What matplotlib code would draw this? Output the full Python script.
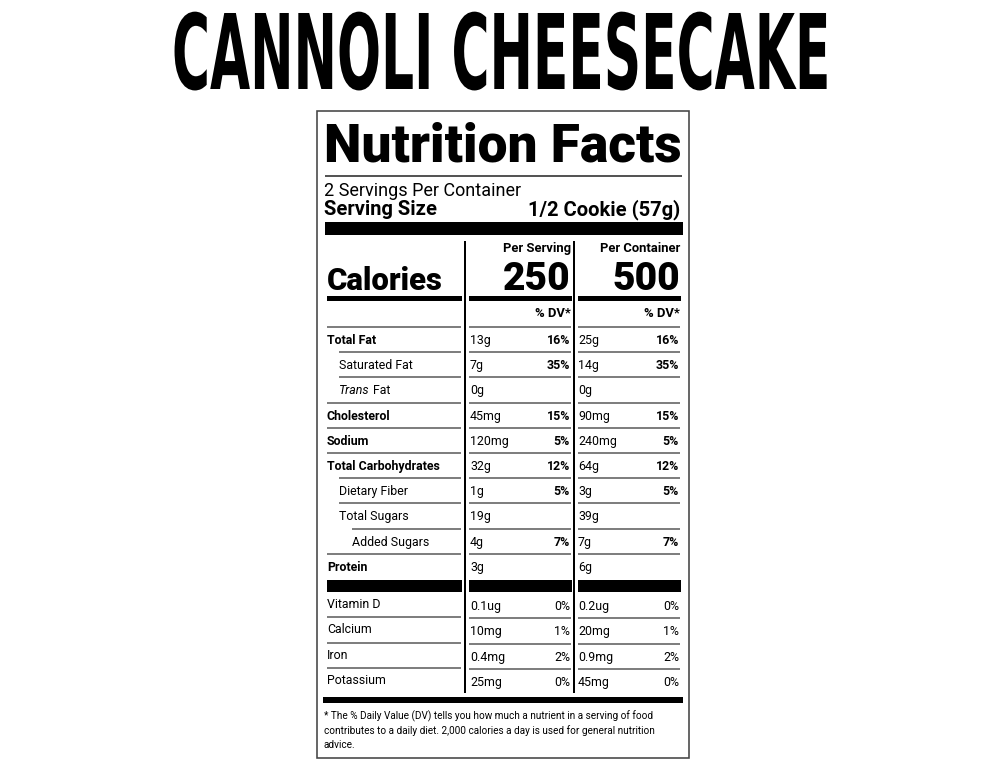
import matplotlib
matplotlib.use("Agg")
import matplotlib.pyplot as plt
from matplotlib.patches import Rectangle
from matplotlib.patheffects import AbstractPathEffect
from matplotlib.transforms import Affine2D

# ---------------- data ----------------
title = "CANNOLI CHEESECAKE"
servings_text = "2 Servings Per Container"
serving_size_label = "Serving Size"
serving_size_value = "1/2 Cookie (57g)"
col_headers = ["Per Serving", "Per Container"]
calories = ["250", "500"]

nutrients = ["Total Fat", "Saturated Fat", "Trans Fat", "Cholesterol", "Sodium",
             "Total Carbohydrates", "Dietary Fiber", "Total Sugars", "Added Sugars", "Protein"]
indent_level = [0, 1, 1, 0, 0, 0, 1, 1, 2, 0]
is_bold = [True, False, False, True, True, True, False, False, False, True]
serving_amount = ["13g", "7g", "0g", "45mg", "120mg", "32g", "1g", "19g", "4g", "3g"]
serving_dv = ["16%", "35%", "", "15%", "5%", "12%", "5%", "", "7%", ""]
container_amount = ["25g", "14g", "0g", "90mg", "240mg", "64g", "3g", "39g", "7g", "6g"]
container_dv = ["16%", "35%", "", "15%", "5%", "12%", "5%", "", "7%", ""]

vitamins = ["Vitamin D", "Calcium", "Iron", "Potassium"]
vit_serving_amount = ["0.1ug", "10mg", "0.4mg", "25mg"]
vit_serving_dv = ["0%", "1%", "2%", "0%"]
vit_container_amount = ["0.2ug", "20mg", "0.9mg", "45mg"]
vit_container_dv = ["0%", "1%", "2%", "0%"]

footnote = ["* The % Daily Value (DV) tells you how much a nutrient in a serving of food",
            "contributes to a daily diet. 2,000 calories a day is used for general nutrition",
            "advice."]

# ---------------- figure ----------------
W, H = 1006, 772
fig = plt.figure(figsize=(W / 100, H / 100), dpi=100)
ax = fig.add_axes([0, 0, 1, 1])
ax.set_xlim(0, W)
ax.set_ylim(H, 0)
ax.axis("off")
PT = 72 / 100  # px -> pt
FONT = "Roboto"
GRAY = "#555555"


class Stretch(AbstractPathEffect):
    """Scale glyph outlines about the baseline (keeps the Text as real text)."""
    def __init__(self, sx=1.0, sy=1.0):
        super().__init__()
        self.sx, self.sy = sx, sy

    def draw_path(self, renderer, gc, tpath, affine, rgbFace=None):
        renderer.draw_path(gc, tpath, Affine2D().scale(self.sx, self.sy) + affine, rgbFace)


def hline(x0, x1, y, lw_px=1.5, color=GRAY):
    ax.plot([x0, x1], [y, y], color=color, lw=lw_px * PT, solid_capstyle="butt")


def bar(x0, x1, y0, y1):
    ax.add_patch(Rectangle((x0, y0), x1 - x0, y1 - y0, color="black", lw=0))


def txt(x, y, s, size_px, weight="normal", ha="left", style="normal", **kw):
    return ax.text(x, y, s, fontsize=size_px * PT, fontweight=weight, ha=ha,
                   va="baseline", family=FONT, style=style, color="black", **kw)


renderer = fig.canvas.get_renderer()

# ---------------- title (condensed look via vertical stretch) ----------------
t = ax.text(501, 89, title, fontsize=100 * PT, fontweight="bold", family="DejaVu Sans",
            ha="center", va="baseline", color="black")
w100 = t.get_window_extent(renderer).width
s_px = 100 * 658 / w100
t.set_fontsize(s_px * PT)
t.set_path_effects([Stretch(sx=1.0, sy=76 / (0.729 * s_px))])

# ---------------- box ----------------
ax.add_patch(Rectangle((317, 111), 689 - 317, 758 - 111, fill=False, ec="#444444", lw=1.6 * PT))

txt(324, 162, "Nutrition Facts", 53.2, weight="black")
hline(325, 682, 176, 2.0)
txt(324, 196, servings_text, 18)
txt(324, 215, serving_size_label, 20.2, weight="bold")
txt(680, 215, serving_size_value, 20.2, weight="bold", ha="right")
bar(325, 683, 222, 235)

# column geometry
L0, L1 = 327, 461
M0, M1 = 469, 571
R0, R1 = 578, 680
for vx in (465, 574):
    ax.plot([vx, vx], [241, 693], color="black", lw=2.0 * PT, solid_capstyle="butt")

txt(M1, 252, col_headers[0], 13, weight="bold", ha="right")
txt(R1, 252, col_headers[1], 13, weight="bold", ha="right")
txt(327, 290, "Calories", 31, weight="black")
txt(M1, 290, calories[0], 39, weight="black", ha="right")
txt(R1, 290, calories[1], 39, weight="black", ha="right")
for a, b in ((L0, L1 + 1), (M0, M1 + 1), (R0, R1 + 1)):
    bar(a, b, 295.5, 300.5)
txt(M1, 317, "% DV*", 13, weight="bold", ha="right")
txt(R1, 317, "% DV*", 13, weight="bold", ha="right")

# nutrient rows
ROW_H = 25.2
ROW_SIZE = 12.4
for i, name in enumerate(nutrients):
    top = 327 + i * ROW_H
    base = top + 17
    ind = [0, 12, 25][indent_level[i]]
    hline(L0 + ind, L1, top)
    hline(M0, M1, top)
    hline(R0, R1, top)
    w = "bold" if is_bold[i] else "normal"
    if name == "Trans Fat":
        tt = txt(L0 + ind, base, "Trans", ROW_SIZE, style="italic")
        ext = tt.get_window_extent(renderer)
        txt(ext.x1 + 3.5, base, "Fat", ROW_SIZE)
    else:
        txt(L0 + ind, base, name, ROW_SIZE, weight=w)
    txt(M0 + 1, base, serving_amount[i], ROW_SIZE)
    txt(R0, base, container_amount[i], ROW_SIZE)
    if serving_dv[i]:
        txt(M1 - 1, base, serving_dv[i], ROW_SIZE, weight="bold", ha="right")
    if container_dv[i]:
        txt(R1 - 1, base, container_dv[i], ROW_SIZE, weight="bold", ha="right")

# black separator bars before vitamins
for a, b in ((L0, L1 + 1), (M0, M1 + 1), (R0, R1 + 1)):
    bar(a, b, 580, 592)

VIT_TOP = 592
for i, name in enumerate(vitamins):
    top = VIT_TOP + i * 25.3
    if i > 0:
        hline(L0, L1, top)
        hline(M0, M1, top + 1)
        hline(R0, R1, top + 1)
    base = top + 16
    txt(L0, base, name, ROW_SIZE)
    txt(M0 + 1, base + 2, vit_serving_amount[i], ROW_SIZE)
    txt(M1 - 1, base + 2, vit_serving_dv[i], ROW_SIZE, ha="right")
    txt(R0, base + 2, vit_container_amount[i], ROW_SIZE)
    txt(R1 - 1, base + 2, vit_container_dv[i], ROW_SIZE, ha="right")

bar(323, 683, 697, 703)

for j, line in enumerate(footnote):
    txt(324, 719 + j * 14.5, line, 10.0)

fig.savefig("out.png", dpi=100)
